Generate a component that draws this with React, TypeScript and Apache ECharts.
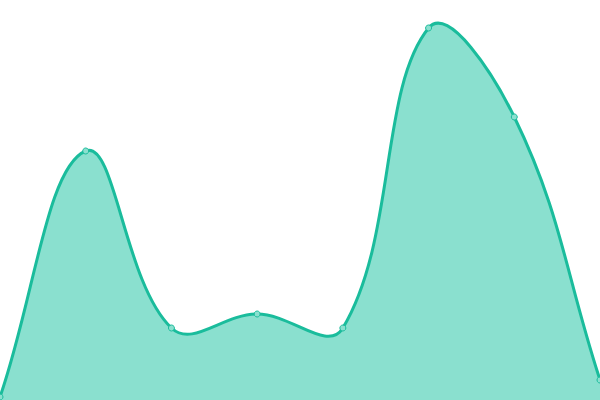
import { useEffect, useRef } from 'react'
import * as echarts from 'echarts'

const categories = ['1', '2', '3', '4', '5', '6', '7', '8']
const values = [3, 249, 72, 86, 72, 372, 283, 20]

const LINE = '#1abc9c'
const FILL = '#8ae0cf'
const TENSION = 0.4

type Pt = { x: number; y: number }

// 样条控制点（非单调，允许越过数据点，与参考图一致）
function splineCps(prev: Pt, cur: Pt, next: Pt, t: number) {
  const d01 = Math.hypot(cur.x - prev.x, cur.y - prev.y)
  const d12 = Math.hypot(next.x - cur.x, next.y - cur.y)
  let s01 = d01 / (d01 + d12)
  let s12 = d12 / (d01 + d12)
  if (isNaN(s01)) s01 = 0
  if (isNaN(s12)) s12 = 0
  const fa = t * s01
  const fb = t * s12
  return {
    prev: { x: cur.x - fa * (next.x - prev.x), y: cur.y - fa * (next.y - prev.y) },
    next: { x: cur.x + fb * (next.x - prev.x), y: cur.y + fb * (next.y - prev.y) },
  }
}

export default function App() {
  const elRef = useRef<HTMLDivElement>(null)

  useEffect(() => {
    if (!elRef.current) return
    const chart = echarts.init(elRef.current, null, { renderer: 'svg' })

    const renderItem = (params: any, api: any) => {
      if (params.dataIndexInside !== 0) return { type: 'group', children: [] }
      const n = params.dataInsideLength
      const pts: Pt[] = []
      for (let j = 0; j < n; j++) {
        const c = api.coord([api.value(0, j), api.value(1, j)])
        pts.push({ x: c[0], y: c[1] })
      }
      const cs = params.coordSys
      const clampX = (v: number) => Math.min(Math.max(v, cs.x), cs.x + cs.width)
      const clampY = (v: number) => Math.min(Math.max(v, cs.y), cs.y + cs.height)
      const cps = pts.map((p, j) => {
        const r = splineCps(pts[j - 1] || p, p, pts[j + 1] || p, TENSION)
        return {
          prev: { x: clampX(r.prev.x), y: clampY(r.prev.y) },
          next: { x: clampX(r.next.x), y: clampY(r.next.y) },
        }
      })
      let line = `M${pts[0].x},${pts[0].y}`
      for (let j = 1; j < n; j++) {
        const a = cps[j - 1].next
        const b = cps[j].prev
        line += ` C${a.x},${a.y} ${b.x},${b.y} ${pts[j].x},${pts[j].y}`
      }
      const base = api.coord([0, 0])[1]
      const area = `${line} L${pts[n - 1].x},${base} L${pts[0].x},${base} Z`
      return {
        type: 'group',
        children: [
          { type: 'path', shape: { pathData: area }, style: { fill: FILL, stroke: 'none' } },
          {
            type: 'path',
            shape: { pathData: line },
            style: { fill: 'none', stroke: LINE, lineWidth: 3 },
          },
        ],
      }
    }

    chart.setOption({
      animation: false,
      grid: { left: 0, right: 0, top: 0, bottom: 0 },
      xAxis: { type: 'category', data: categories, boundaryGap: false, show: false },
      yAxis: { type: 'value', min: 0, max: 400, show: false },
      series: [
        {
          type: 'custom',
          renderItem,
          clip: false,
          data: values.map((v, i) => [i, v]),
          encode: { x: 0, y: 1 },
        },
        {
          type: 'scatter',
          data: values.map((v, i) => [i, v]),
          symbol: 'circle',
          symbolSize: 6,
          itemStyle: { color: FILL, borderColor: LINE, borderWidth: 1, opacity: 1 },
          z: 3,
        },
      ],
    })
    return () => chart.dispose()
  }, [])

  return (
    <div
      ref={elRef}
      style={{ position: 'absolute', left: 0, top: 0, width: 600, height: 400 }}
    />
  )
}
